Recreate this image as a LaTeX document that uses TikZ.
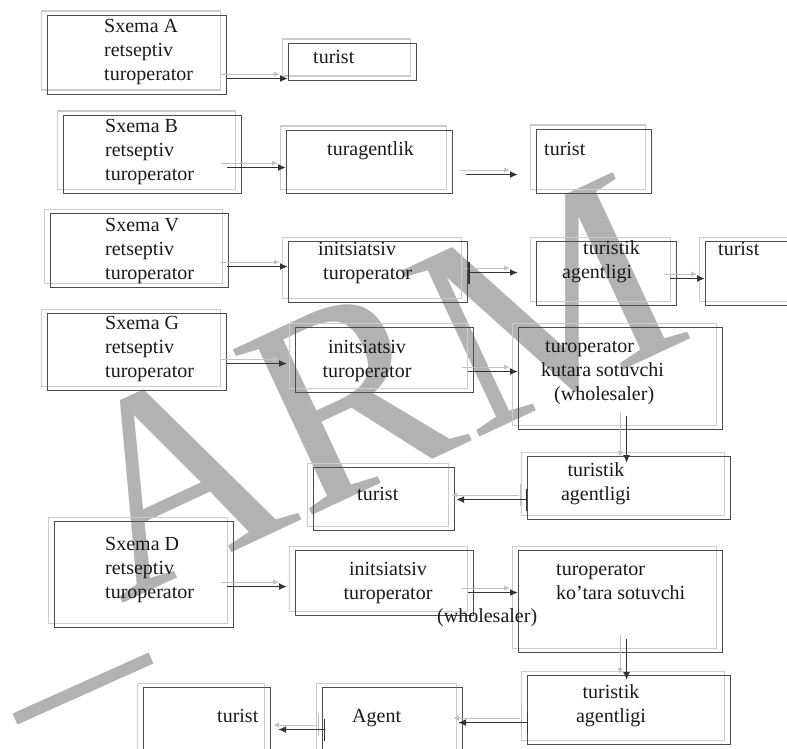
\documentclass[tikz,border=0pt]{standalone}
\usepackage{fontspec}
\setmainfont{Liberation Serif}
\usetikzlibrary{arrows.meta}

\tikzset{
  box/.style={draw=black!70, line width=1.1pt, inner sep=0pt, anchor=north west,
    preaction={draw=black!20, transform canvas={shift={(-6.5pt,4.5pt)}}}},
  lbl/.style={anchor=base west, inner sep=0pt, align=left, text=black!90},
  lblc/.style={lbl, anchor=base, align=center},
  arr/.style={draw=black!80, line width=1.4pt, -{Latex[length=8pt,width=7pt]},
    preaction={draw=black!24, transform canvas={shift={(-6.5pt,4.5pt)}}}},
  tick/.style={{Bar[width=22pt]}-{Latex[length=8pt,width=7pt]}},
  wmark/.style={text=black!30, inner sep=0pt, font=\fontsize{280}{280}\selectfont}
}

\begin{document}
\begin{tikzpicture}[x=1pt, y=-1pt, every node/.style={font=\fontsize{20}{24}\selectfont}]
\useasboundingbox (0,0) rectangle (787,749);
\clip (0,0) rectangle (787,749);

% watermark
\node[wmark, rotate=25, anchor=base west] (arm) at (120,605) {ARM};
\draw[line width=12pt, black!30] (15,719) -- (151,658);

% Sxema A
\node[box, minimum width=179pt, minimum height=79pt] (sa) at (47,15) {};
\node[box, minimum width=128pt, minimum height=37pt] (ta) at (288,43) {};
\node[lbl] (sa-t) at (104,81) {Sxema A\\retseptiv\\turoperator};
\node[lbl] (ta-t) at (313,64) {turist};
\draw[arr] ([yshift=-23.5pt]sa.east) -- ([yshift=-23.5pt]sa.east -| ta.west);

% Sxema B
\node[box, minimum width=178pt, minimum height=78pt] (sb) at (63,115) {};
\node[box, minimum width=166pt, minimum height=63pt] (gb) at (286,130) {};
\node[box, minimum width=115pt, minimum height=64pt] (tb) at (536,129) {};
\node[lbl] (sb-t) at (105,180) {Sxema B\\retseptiv\\turoperator};
\node[lbl] (gb-t) at (327,156) {turagentlik};
\node[lbl] (tb-t) at (544,156) {turist};
\draw[arr] ([xshift=-15pt,yshift=-13pt]sb.east) -- ([yshift=-13pt]sb.east -| gb.west);
\draw[arr] ([xshift=13pt,yshift=-12.5pt]gb.east) -- ([xshift=-18pt,yshift=-12.5pt]gb.east -| tb.west);

% Sxema V
\node[box, minimum width=178pt, minimum height=74pt] (sv) at (50,213) {};
\node[box, minimum width=179pt, minimum height=61pt] (iv) at (288,241) {};
\node[box, minimum width=140pt, minimum height=64pt] (av) at (536,241) {};
\node[box, minimum width=100pt, minimum height=64pt] (tv) at (705,241) {};
\node[lbl] (sv-t) at (105,279) {Sxema V\\retseptiv\\turoperator};
\node[lbl] (iv-t) at (318,279) {initsiatsiv\\\hspace*{5pt}turoperator};
\node[lbl] (av-t) at (562,278) {\hspace*{21pt}turistik\\agentligi};
\node[lbl] (tv-t) at (718,255) {turist};
\draw[arr] ([xshift=-2pt,yshift=-16pt]sv.east) -- ([yshift=-16pt]sv.east -| iv.west);
\draw[arr, tick] ([yshift=-0.5pt]iv.east) -- ([xshift=-18pt,yshift=-0.5pt]iv.east -| av.west);
\draw[arr] ([xshift=-7pt,yshift=-5pt]av.east) -- ([yshift=-5pt]av.east -| tv.west);

% Sxema G
\node[box, minimum width=179pt, minimum height=77pt] (sg) at (47,313) {};
\node[box, minimum width=178pt, minimum height=65pt] (ig) at (295,327) {};
\node[box, minimum width=204pt, minimum height=102pt] (wg) at (518,327) {};
\node[box, minimum width=203pt, minimum height=63pt] (ag) at (527,456) {};
\node[box, minimum width=141pt, minimum height=63pt] (tg) at (313,467) {};
\node[lbl] (sg-t) at (105,377) {Sxema G\\retseptiv\\turoperator};
\node[lblc] (ig-t) at (367,377) {initsiatsiv\\turoperator};
\node[lbl] (wg-t) at (541,400) {\hspace*{4pt}turoperator\\kutara sotuvchi\\\hspace*{13pt}(wholesaler)};
\node[lblc] (ag-t) at (596,500) {turistik\\agentligi};
\node[lbl] (tg-t) at (357,500) {turist};
\draw[arr] ([yshift=-11.5pt]sg.east) -- ([xshift=-8pt,yshift=-11.5pt]sg.east -| ig.west);
\draw[arr] ([xshift=-6pt,yshift=-11.5pt]ig.east) -- ([yshift=-11.5pt]ig.east -| wg.west);
\draw[arr] ([xshift=6pt,yshift=14pt]wg.south) -- ([xshift=6pt,yshift=-7pt]wg.south |- ag.north);
\draw[arr, tick] ([yshift=-11.5pt]ag.west) -- ([xshift=1pt,yshift=-11.5pt]ag.west -| tg.east);

% Sxema D
\node[box, minimum width=179pt, minimum height=106pt] (sd) at (54,521) {};
\node[box, minimum width=178pt, minimum height=65pt] (id) at (295,550) {};
\node[box, minimum width=204pt, minimum height=102pt] (wd) at (518,550) {};
\node[box, minimum width=203pt, minimum height=69pt] (ad) at (527,675) {};
\node[box, minimum width=140pt, minimum height=73pt] (gd) at (322,687) {};
\node[box, minimum width=127pt, minimum height=73pt] (td) at (143,687) {};
\node[lbl] (sd-t) at (105,598) {Sxema D\\retseptiv\\turoperator};
\node[lblc] (id-t) at (388,599) {initsiatsiv\\turoperator};
\node[lbl] (wd-t) at (556,599) {turoperator\\ko’tara sotuvchi};
\node[lbl] (wh-t) at (437,622) {(wholesaler)};
\node[lblc] (ad-t) at (611,722) {turistik\\agentligi};
\node[lbl] (gd-t) at (352,722) {Agent};
\node[lbl] (td-t) at (217,722) {turist};
\draw[arr] ([xshift=-7pt,yshift=-12pt]sd.east) -- ([xshift=-8pt,yshift=-12pt]sd.east -| id.west);
\draw[arr] ([xshift=-6pt,yshift=-9.5pt]id.east) -- ([yshift=-9.5pt]id.east -| wd.west);
\draw[arr] ([xshift=6pt,yshift=14pt]wd.south) -- ([xshift=6pt,yshift=-5pt]wd.south |- ad.north);
\draw[arr, tick] ([xshift=1pt,yshift=-12.5pt]ad.west) -- ([xshift=-5pt,yshift=-12.5pt]ad.west -| gd.east);
\draw[arr, tick] ([xshift=3pt,yshift=-5.5pt]gd.west) -- ([xshift=7pt,yshift=-5.5pt]gd.west -| td.east);
\end{tikzpicture}
\end{document}
